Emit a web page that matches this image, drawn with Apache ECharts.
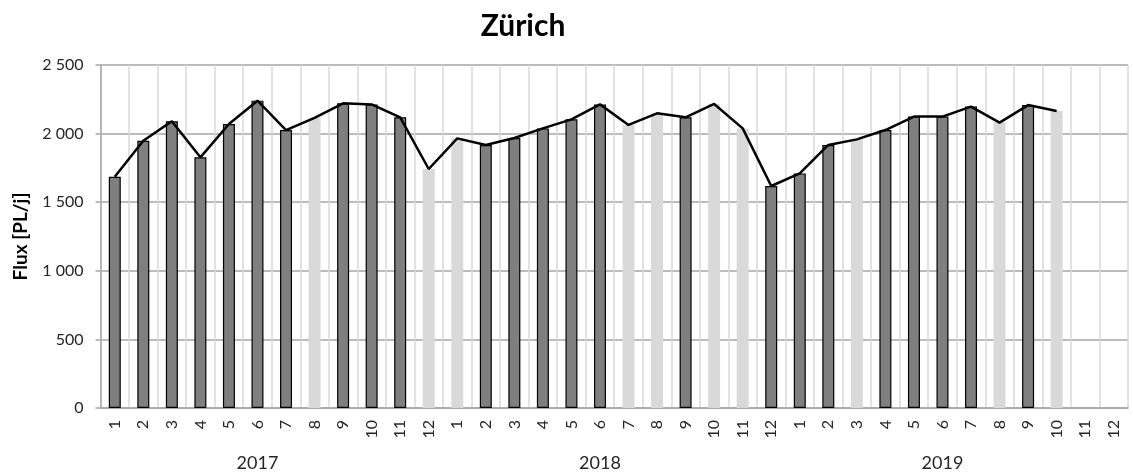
<!DOCTYPE html>
<html>
<head>
<meta charset="utf-8">
<script src="https://cdn.jsdelivr.net/npm/echarts@6/dist/echarts.min.js"></script>
<style>
  html, body { margin: 0; padding: 0; background: #fff; }
  #chart { width: 1133px; height: 475px; }
</style>
</head>
<body>
<div id="chart"></div>
<script>
// Monthly flux at Zürich, 2017–2019
const years = ['2017', '2018', '2019'];
const months = ['1', '2', '3', '4', '5', '6', '7', '8', '9', '10', '11', '12'];

const flux2017 = [1686, 1948, 2090, 1827, 2070, 2240, 2026, 2115, 2221, 2213, 2119, 1742];
const flux2018 = [1965, 1917, 1968, 2038, 2104, 2213, 2063, 2148, 2119, 2216, 2038, 1618];
const flux2019 = [1710, 1917, 1958, 2026, 2124, 2124, 2197, 2080, 2208, 2165, null, null];

// 1 = measured month (dark bar), 0 = completed month (light bar)
const measured2017 = [1, 1, 1, 1, 1, 1, 1, 0, 1, 1, 1, 0];
const measured2018 = [0, 1, 1, 1, 1, 1, 0, 0, 1, 0, 0, 1];
const measured2019 = [1, 1, 0, 1, 1, 1, 1, 0, 1, 0, 0, 0];

const yTicks = { min: 0, max: 2500, interval: 500 };

const categories = [];
years.forEach(y => months.forEach(m => categories.push(y + '-' + m)));
const flux = flux2017.concat(flux2018, flux2019);
const measured = measured2017.concat(measured2018, measured2019);

const darkBars = flux.map((v, i) => (measured[i] && v != null) ? v : null);
const lightBars = flux.map((v, i) => (!measured[i] && v != null) ? v : null);

const FONT = 'Lato, "Open Sans", sans-serif';
const TEXT = '#262626';

const chart = echarts.init(document.getElementById('chart'), null, { renderer: 'canvas' });
chart.setOption({
  animation: false,
  backgroundColor: '#ffffff',
  title: {
    text: 'Zürich',
    left: 518,
    top: 6,
    textAlign: 'center',
    textStyle: { fontFamily: FONT, fontSize: 30, fontWeight: 'bold', color: '#000' }
  },
  grid: { left: 100.5, right: 5, top: 65, bottom: 67, containLabel: false },
  xAxis: [
    {
      type: 'category',
      data: categories,
      boundaryGap: true,
      axisLine: { show: true, lineStyle: { color: '#a6a6a6', width: 1.5 } },
      axisTick: { show: false },
      splitLine: { show: true, interval: 0, lineStyle: { color: '#d9d9d9', width: 1.5 } },
      axisLabel: {
        interval: 0,
        rotate: 90,
        margin: 12,
        fontFamily: FONT,
        fontSize: 16,
        color: TEXT,
        formatter: v => v.split('-')[1]
      }
    },
    {
      type: 'category',
      data: categories,
      position: 'bottom',
      offset: 40,
      axisLine: { show: false },
      axisTick: { show: false },
      splitLine: { show: false },
      axisLabel: {
        interval: 0,
        margin: 6,
        fontFamily: FONT,
        fontSize: 18,
        color: TEXT,
        formatter: (v, i) => (i % 12 === 5 ? v.split('-')[0] : '')
      }
    }
  ],
  yAxis: {
    type: 'value',
    min: yTicks.min,
    max: yTicks.max,
    interval: yTicks.interval,
    name: 'Flux [PL/j]',
    nameLocation: 'middle',
    nameGap: 70,
    nameTextStyle: { fontFamily: FONT, fontSize: 19, fontWeight: 'bold', color: '#000' },
    axisLine: { show: true, lineStyle: { color: '#a6a6a6', width: 1.5 } },
    axisTick: { show: true, length: 5, lineStyle: { color: '#a6a6a6', width: 1.5 } },
    splitLine: { show: true, lineStyle: { color: '#a6a6a6', width: 1.5 } },
    axisLabel: {
      margin: 17,
      fontFamily: FONT,
      fontSize: 16,
      color: TEXT,
      formatter: v => String(v).replace(/\B(?=(\d{3})+(?!\d))/g, ' ')
    }
  },
  series: [
    {
      name: 'measured',
      type: 'bar',
      data: darkBars,
      barWidth: '42%',
      barGap: '-100%',
      itemStyle: { color: '#7f7f7f', borderColor: '#000', borderWidth: 1.2 },
      z: 2
    },
    {
      name: 'completed',
      type: 'bar',
      data: lightBars,
      barWidth: '42%',
      barGap: '-100%',
      itemStyle: { color: '#d9d9d9' },
      z: 2
    },
    {
      name: 'flux',
      type: 'line',
      data: flux,
      symbol: 'none',
      connectNulls: false,
      lineStyle: { color: '#000', width: 2.5 },
      z: 5
    }
  ]
});
</script>
</body>
</html>
